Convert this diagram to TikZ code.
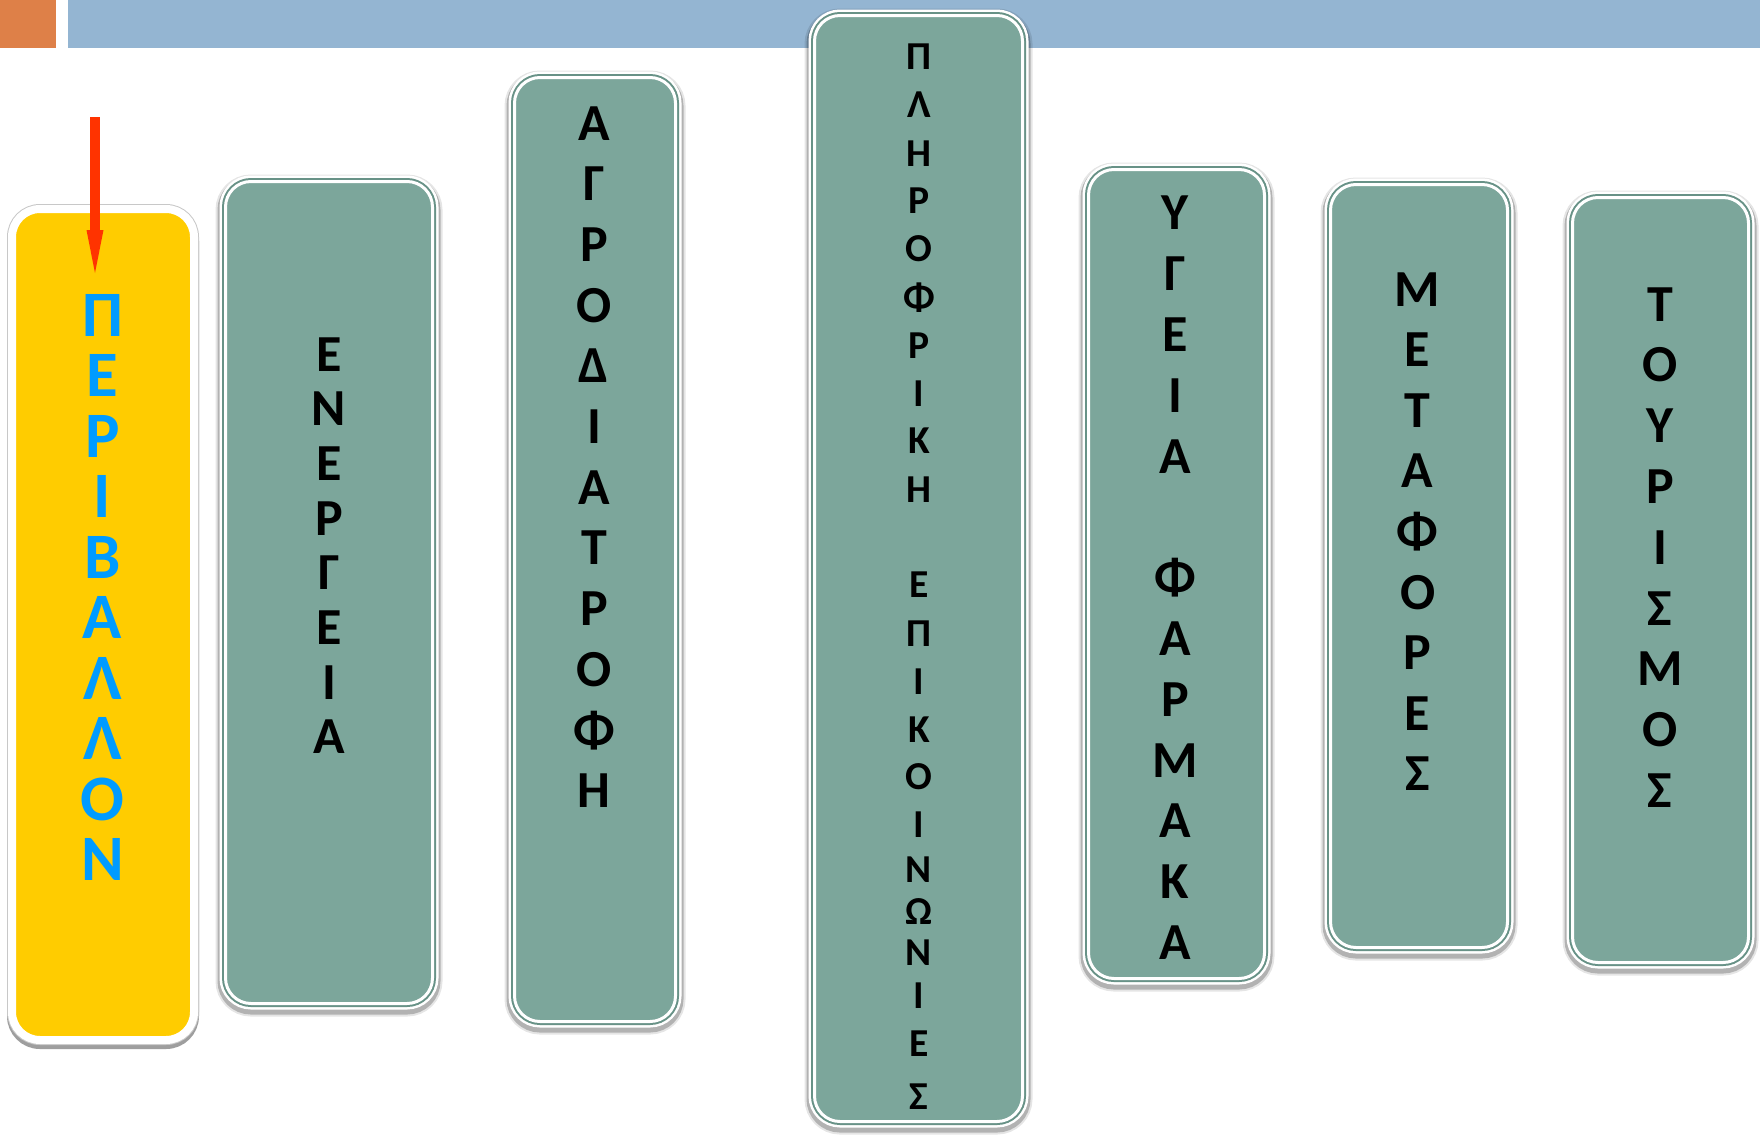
\documentclass[tikz,border=0pt]{standalone}
\usepackage{fontspec}
\setmainfont{Carlito}
\usetikzlibrary{arrows.meta}
\definecolor{barorange}{RGB}{222,128,72}
\definecolor{barblue}{RGB}{148,181,210}
\definecolor{boxgreen}{RGB}{124,166,155}
\definecolor{edgegreen}{RGB}{104,146,135}
\definecolor{sunyellow}{RGB}{255,204,0}
\definecolor{skyblue}{RGB}{0,155,255}
\definecolor{arrowred}{RGB}{255,51,0}
\definecolor{shadowgray}{RGB}{158,158,158}
\definecolor{rimgray}{RGB}{200,200,200}
\tikzset{
  gbox/.style={rectangle, rounded corners=12.75pt, inner sep=0pt, fill=boxgreen, draw=white, line width=1.5pt,
    preaction={fill=black, draw=black, line width=10pt, opacity=0.10, transform canvas={yshift=-1.5pt}},
    preaction={fill=black, draw=black, line width=8pt, opacity=0.22, transform canvas={yshift=-1.5pt}},
    preaction={draw=white, line width=6pt},
    preaction={draw=edgegreen, line width=3.5pt}},
  ybox/.style={rectangle, rounded corners=14pt, inner sep=0pt, fill=sunyellow, draw=white, line width=4pt,
    preaction={fill=shadowgray, draw=shadowgray, line width=5pt, transform canvas={yshift=-2pt}},
    preaction={draw=rimgray, line width=5pt}},
  bltr/.style={inner sep=0pt, text height=16.5pt, text depth=0pt, font=\bfseries\fontsize{26}{26}\selectfont},
  sltr/.style={inner sep=0pt, text height=12.5pt, text depth=0pt, font=\bfseries\fontsize{19.8}{20}\selectfont},
  pltr/.style={inner sep=0pt, text height=20.5pt, text depth=0pt, text=skyblue, font=\bfseries\fontsize{32.4}{33}\selectfont},
  redarrow/.style={draw=arrowred, line width=5pt, -{Triangle[length=21.5pt,width=8.5pt,line width=0pt]}}
}
\begin{document}
\begin{tikzpicture}[x=0.5pt,y=-0.5pt]
\useasboundingbox (0,0) rectangle (1760,1135);
\fill[white] (0,0) rectangle (1760,1135);
% top bars
\fill[barorange] (0,0) rectangle (56,48);
\fill[barblue] (68,0) rectangle (1760,48);

% boxes
\node[ybox, minimum width=91pt, minimum height=415.5pt] (periballon) at (103,624.5) {};
\node[gbox, minimum width=103.5pt, minimum height=411pt] (energeia) at (329,592.5) {};
\node[gbox, minimum width=80.5pt, minimum height=472pt] (agro) at (595,549.5) {};
\node[gbox, minimum width=104pt, minimum height=553pt] (plhro) at (918.5,568.5) {};
\node[gbox, minimum width=88pt, minimum height=404.5pt] (ygeia) at (1176.5,574) {};
\node[gbox, minimum width=88.5pt, minimum height=381.5pt] (metafores) at (1419,566) {};
\node[gbox, minimum width=88pt, minimum height=382.5pt] (toyrismos) at (1660.5,580) {};

% letters
\foreach \l [count=\i from 0] in {Π,Ε,Ρ,Ι,Β,Α,Λ,Λ,Ο,Ν}
  \node[pltr] (per\i) at (102.5,{315.5+60.5*\i}) {\l};
\foreach \l [count=\i from 0] in {Ε,Ν,Ε,Ρ,Γ,Ε,Ι,Α}
  \node[bltr] (ene\i) at (329,{354.7+54.66*\i}) {\l};
\foreach \l [count=\i from 0] in {Α,Γ,Ρ,Ο,Δ,Ι,Α,Τ,Ρ,Ο,Φ,Η}
  \node[bltr] (agr\i) at (594,{123.5+60.7*\i}) {\l};
\foreach \l/\yy [count=\i] in {Π/57,Λ/104.5,Η/153.5,Ρ/201,Ο/249,Φ/297.5,Ρ/345.5,Ι/394,Κ/441,Η/489.5,
    Ε/584.5,Π/633.5,Ι/681.5,Κ/729.5,Ο/777,Ι/825,Ν/870,Ω/911.5,Ν/953,Ι/996,Ε/1044,Σ/1096.5}
  \node[sltr] (pli\i) at (919,\yy) {\l};
\foreach \l/\k [count=\i] in {Υ/0,Γ/1,Ε/2,Ι/3,Α/4,Φ/6,Α/7,Ρ/8,Μ/9,Α/10,Κ/11,Α/12}
  \node[bltr] (yge\i) at (1175,{213.3+60.8*\k}) {\l};
\foreach \l [count=\i from 0] in {Μ,Ε,Τ,Α,Φ,Ο,Ρ,Ε,Σ}
  \node[bltr] (met\i) at (1417.6,{289.6+60.6*\i}) {\l};
\foreach \l [count=\i from 0] in {Τ,Ο,Υ,Ρ,Ι,Σ,Μ,Ο,Σ}
  \node[bltr] (toy\i) at (1660,{304.5+60.8*\i}) {\l};

% arrow
\coordinate (arrtop) at (95,117);
\coordinate (arrtip) at (95,273);
\draw[redarrow] (arrtop) -- (arrtip);
\end{tikzpicture}
\end{document}
